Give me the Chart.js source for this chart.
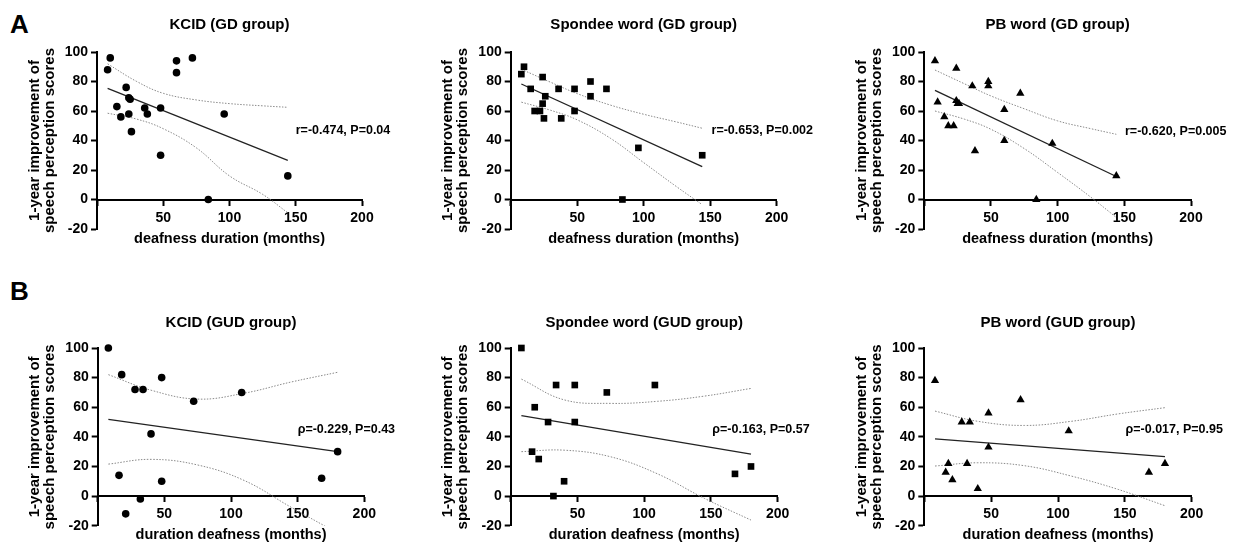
<!DOCTYPE html>
<html lang="en">
<head>
    <meta charset="UTF-8" />
    <title>Deafness duration vs 1-year speech perception improvement</title>
    <script src="https://cdn.jsdelivr.net/npm/chart.js"></script>
    <style>
        body { margin: 0; background: #fff; width: 1238px; height: 544px; position: relative; overflow: hidden;
               font-family: "Liberation Sans", Arial, sans-serif; }
        .panel { position: absolute; }
        .tag { position: absolute; font-weight: bold; font-size: 26px; line-height: 1; color: #000; }
    </style>
</head>
<body>
    <div class="tag" style="left:10px; top:11px">A</div>
    <div class="tag" style="left:10px; top:278px">B</div>

    <div class="panel" style="left:0px;   top:0px;   width:410px; height:270px"><canvas id="kcidGd"></canvas></div>
    <div class="panel" style="left:410px; top:0px;   width:410px; height:270px"><canvas id="spondeeGd"></canvas></div>
    <div class="panel" style="left:820px; top:0px;   width:418px; height:270px"><canvas id="pbGd"></canvas></div>
    <div class="panel" style="left:0px;   top:270px; width:410px; height:274px"><canvas id="kcidGud"></canvas></div>
    <div class="panel" style="left:410px; top:270px; width:410px; height:274px"><canvas id="spondeeGud"></canvas></div>
    <div class="panel" style="left:820px; top:270px; width:418px; height:274px"><canvas id="pbGud"></canvas></div>

    <script>
        // --- GD group (row A): deafness duration in months, one entry per patient
        const gdMonths = [8, 10, 15, 18, 22, 24, 24, 25, 26, 36, 38, 48, 48, 60, 60, 72, 84, 96, 144];
        const kcidGd    = [88, 96, 63, 56, 76, 69, 58, 68, 46, 62, 58, 62, 30, 94, 86, 96, 0, 58, 16];
        const spondeeGd = [85, 90, 75, 60, 60, 83, 65, 55, 70, 75, 55, 75, 60, 80, 70, 75, 0, 35, 30];
        const pbGd      = [94, 66, 56, 50, 50, 89, 67, 65, 65, 77, 33, 80, 77, 61, 40, 72, 0, 38, 16];

        // --- GUD group (row B)
        const gudMonths = [8, 16, 18, 21, 28, 32, 34, 40, 48, 48, 72, 108, 168, 180];
        const kcidGud    = [100, 14, 82, -12, 72, -2, 72, 42, 80, 10, 64, 70, 12, 30];
        const spondeeGud = [100, 30, 60, 25, 50, 0, 75, 10, 75, 50, 70, 75, 15, 20];
        const pbGud      = [78, 16, 22, 11, 50, 22, 50, 5, 56, 33, 65, 44, 16, 22];

        // fitted line end points
        const gdFitMonths = [8, 144];
        const kcidGdFit    = [75.3, 26.5];
        const spondeeGdFit = [78.3, 22.3];
        const pbGdFit      = [74, 15.6];
        const gudFitMonths = [8, 180];
        const kcidGudFit    = [51.8, 30];
        const spondeeGudFit = [54.3, 28.4];
        const pbGudFit      = [38.7, 26.6];

        // 95% confidence bands
        const gdBandMonths = [8, 30, 50, 75, 100, 125, 144];
        const kcidGdUpper    = [92, 80, 72, 67.5, 65, 63.5, 62.5];
        const kcidGdLower    = [58.5, 54.5, 48, 35, 16, 3.5, -9];
        const spondeeGdUpper = [88.3, 79.5, 71.8, 64, 57.8, 52.5, 48.3];
        const spondeeGdLower = [66, 60.5, 54, 41.5, 25, 8.5, -3.5];
        const pbGdUpper      = [87.8, 78.5, 70.2, 61.5, 53.3, 48, 44.2];
        const pbGdLower      = [60, 54.5, 47.6, 34.5, 18.3, 1.5, -12.2];
        const gudBandMonths = [8, 40, 75, 110, 145, 180];
        const kcidGudUpper    = [82, 71.5, 65.5, 69.5, 77, 83.6];
        const kcidGudLower    = [21.6, 24.8, 21, 10.5, -7.5, -25];
        const spondeeGudUpper = [79, 65, 62.6, 64, 67.5, 72.7];
        const spondeeGudLower = [30, 31, 26.5, 15, -1.5, -16.2];
        const pbGudUpper      = [57.4, 50.5, 47.7, 50.5, 55.5, 59.7];
        const pbGudLower      = [20.3, 22.5, 20.5, 13.5, 4.5, -6.5];

        const yTicks = { min: -20, max: 100, step: 20 };
        const xTicks = { min: 0, max: 200, step: 50 };

        const pairs = (xs, ys) => xs.map((x, i) => ({ x: x, y: ys[i] }));

        const panels = [
            { id: 'kcidGd', title: 'KCID (GD group)', xTitle: 'deafness duration (months)', stat: 'r=-0.474, P=0.04',
              months: gdMonths, scores: kcidGd, fitX: gdFitMonths, fit: kcidGdFit, bandX: gdBandMonths, upper: kcidGdUpper, lower: kcidGdLower },
            { id: 'spondeeGd', title: 'Spondee word (GD group)', xTitle: 'deafness duration (months)', stat: 'r=-0.653, P=0.002',
              months: gdMonths, scores: spondeeGd, fitX: gdFitMonths, fit: spondeeGdFit, bandX: gdBandMonths, upper: spondeeGdUpper, lower: spondeeGdLower },
            { id: 'pbGd', title: 'PB word (GD group)', xTitle: 'deafness duration (months)', stat: 'r=-0.620, P=0.005',
              months: gdMonths, scores: pbGd, fitX: gdFitMonths, fit: pbGdFit, bandX: gdBandMonths, upper: pbGdUpper, lower: pbGdLower },
            { id: 'kcidGud', title: 'KCID (GUD group)', xTitle: 'duration deafness (months)', stat: '\u03c1=-0.229, P=0.43',
              months: gudMonths, scores: kcidGud, fitX: gudFitMonths, fit: kcidGudFit, bandX: gudBandMonths, upper: kcidGudUpper, lower: kcidGudLower },
            { id: 'spondeeGud', title: 'Spondee word (GUD group)', xTitle: 'duration deafness (months)', stat: '\u03c1=-0.163, P=0.57',
              months: gudMonths, scores: spondeeGud, fitX: gudFitMonths, fit: spondeeGudFit, bandX: gudBandMonths, upper: spondeeGudUpper, lower: spondeeGudLower },
            { id: 'pbGud', title: 'PB word (GUD group)', xTitle: 'duration deafness (months)', stat: '\u03c1=-0.017, P=0.95',
              months: gudMonths, scores: pbGud, fitX: gudFitMonths, fit: pbGudFit, bandX: gudBandMonths, upper: pbGudUpper, lower: pbGudLower }
        ];

        // layout / style per panel (kept apart from the data)
        const looks = {
            kcidGd:     { marker: 'circle',   radius: 3.8, pad: { left: 18,   right: 48,   top: 0, bottom: 41 },   titlePad: { top: 16, bottom: 18 }, statAt: [150, 47] },
            spondeeGd:  { marker: 'rect',     radius: 4.7, pad: { left: 21.7, right: 43.3, top: 0, bottom: 41 },   titlePad: { top: 16, bottom: 18 }, statAt: [151, 47] },
            pbGd:       { marker: 'triangle', radius: 4.8, pad: { left: 25.3, right: 47,   top: 0, bottom: 41 },   titlePad: { top: 16, bottom: 18 }, statAt: [150.5, 46] },
            kcidGud:    { marker: 'circle',   radius: 3.8, pad: { left: 18.7, right: 45.7, top: 0, bottom: 18.3 }, titlePad: { top: 44, bottom: 16 }, statAt: [150, 45] },
            spondeeGud: { marker: 'rect',     radius: 4.7, pad: { left: 21.7, right: 42.3, top: 0, bottom: 18.3 }, titlePad: { top: 44, bottom: 16 }, statAt: [151, 45] },
            pbGud:      { marker: 'triangle', radius: 4.8, pad: { left: 25.3, right: 46.3, top: 0, bottom: 18.3 }, titlePad: { top: 44, bottom: 16 }, statAt: [150.5, 45] }
        };

        Chart.defaults.font.family = '"Liberation Sans", Arial, sans-serif';
        Chart.defaults.font.weight = 'bold';
        Chart.defaults.color = '#000';

        // writes the correlation text at a data position
        const statLabel = {
            id: 'statLabel',
            afterDatasetsDraw(chart, args, opts) {
                const { ctx, scales } = chart;
                ctx.save();
                ctx.font = 'bold 12.5px "Liberation Sans", Arial, sans-serif';
                ctx.fillStyle = '#000';
                ctx.textBaseline = 'middle';
                ctx.textAlign = 'left';
                ctx.fillText(opts.text, scales.x.getPixelForValue(opts.at[0]), scales.y.getPixelForValue(opts.at[1]));
                ctx.restore();
            }
        };

        panels.forEach(p => {
            const look = looks[p.id];
            const band = (ys) => ({
                data: pairs(p.bandX, ys), showLine: true, pointRadius: 0, borderColor: '#8a8a8a',
                borderWidth: 1, borderDash: [1.5, 1.5], tension: 0.4, fill: false
            });
            new Chart(document.getElementById(p.id), {
                type: 'scatter',
                data: {
                    datasets: [
                        { data: pairs(p.months, p.scores), pointStyle: look.marker, pointRadius: look.radius,
                          backgroundColor: '#000', borderColor: '#000', borderWidth: 0, clip: false },
                        { data: pairs(p.fitX, p.fit), showLine: true, pointRadius: 0, borderColor: '#222', borderWidth: 1.3 },
                        band(p.upper),
                        band(p.lower)
                    ]
                },
                options: {
                    responsive: true,
                    maintainAspectRatio: false,
                    animation: false,
                    events: [],
                    layout: { padding: look.pad },
                    plugins: {
                        legend: { display: false },
                        tooltip: { enabled: false },
                        title: { display: true, text: p.title, fullSize: false, color: '#000',
                                 font: { size: 15, weight: 'bold' }, padding: look.titlePad },
                        statLabel: { text: p.stat, at: look.statAt }
                    },
                    scales: {
                        x: {
                            type: 'linear',
                            position: { y: 0 },
                            min: xTicks.min, max: xTicks.max,
                            ticks: { stepSize: xTicks.step, padding: 5, color: '#000', font: { size: 14, weight: 'bold' },
                                     callback: v => (v === 0 ? '' : v) },
                            grid: { drawOnChartArea: false, tickLength: 5, tickWidth: 2, tickColor: '#000' },
                            border: { display: true, color: '#000', width: 2 },
                            title: { display: true, text: p.xTitle, color: '#000', padding: 0,
                                     font: { size: 14.5, weight: 'bold', lineHeight: 1 } }
                        },
                        y: {
                            min: yTicks.min, max: yTicks.max,
                            ticks: { stepSize: yTicks.step, padding: 3, color: '#000', font: { size: 14, weight: 'bold' } },
                            grid: { drawOnChartArea: false, tickLength: 6, tickWidth: 2, tickColor: '#000' },
                            border: { display: true, color: '#000', width: 2 },
                            title: { display: true, text: ['1-year improvement of', 'speech perception scores'], color: '#000',
                                     padding: { top: 9, bottom: 0 }, font: { size: 15, weight: 'bold', lineHeight: 1 } },
                            afterFit: s => { s.width = 79; }
                        }
                    }
                },
                plugins: [statLabel]
            });
        });
    </script>
</body>
</html>
